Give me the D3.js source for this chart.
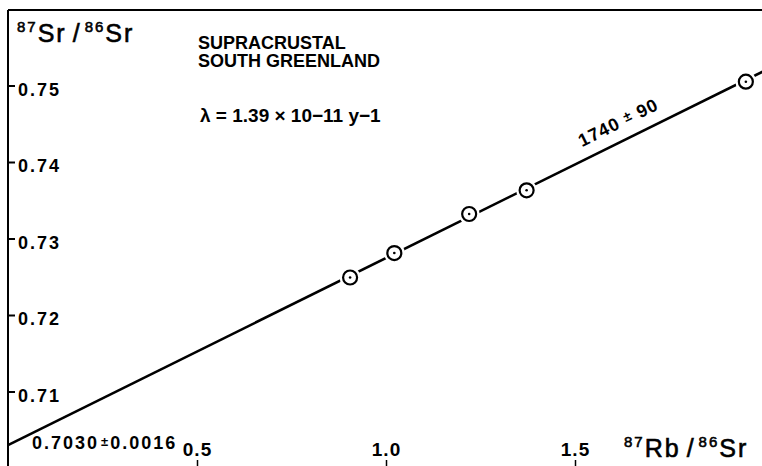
<!DOCTYPE html>
<html>
<head>
<meta charset="utf-8">
<script src="https://cdn.jsdelivr.net/npm/d3@7"></script>
<style>
  body { margin: 0; background: #fff; }
  svg { display: block; font-family: "Liberation Sans", Arial, sans-serif; font-weight: bold; }
</style>
</head>
<body>
<div id="chart"></div>
<script>
var rbSr = [0.905, 1.022, 1.220, 1.372, 1.952];
var srSr = [0.7249, 0.7281, 0.7332, 0.7363, 0.7505];
var lineX = [0, 2.0];
var lineY = [0.7030, 0.7519];
var yTicks = [0.71, 0.72, 0.73, 0.74, 0.75];
var xTicks = [0.5, 1.0, 1.5];

var width = 762, height = 466;

var svg = d3.select("#chart")
			.append("svg")
			.attr("width", width)
			.attr("height", height);

var x = d3.scaleLinear().domain([0, 2]).range([8, 764]);
var y = d3.scaleLinear().domain([0.71, 0.75]).range([391.5, 85.5]);

// frame: left axis and top line
svg.append("line")
	.attr("x1", x(0)).attr("x2", x(0))
	.attr("y1", 10).attr("y2", height)
	.attr("stroke", "#000").attr("stroke-width", 2);
svg.append("line")
	.attr("x1", x(0)).attr("x2", width)
	.attr("y1", 10).attr("y2", 10)
	.attr("stroke", "#000").attr("stroke-width", 2);

// y axis
var yAxis = svg.append("g")
			.attr("transform", "translate(" + x(0) + ",0)")
			.call(d3.axisRight(y).tickValues(yTicks).tickSize(7).tickPadding(3)
				.tickFormat(d3.format(".2f")));
yAxis.select(".domain").remove();
yAxis.selectAll("line").attr("stroke-width", 2);
yAxis.selectAll("text")
	.attr("dy", "0.55em")
	.attr("font-size", 18)
	.attr("letter-spacing", 2)
	.attr("font-family", "Liberation Sans, Arial, sans-serif")
	.attr("font-weight", "bold")
	.attr("fill", "#000");

// x axis (ticks at bottom edge, labels above)
var xAxis = svg.append("g")
			.attr("transform", "translate(0," + height + ")")
			.call(d3.axisBottom(x).tickValues(xTicks).tickSize(-6)
				.tickFormat(d3.format(".1f")));
xAxis.select(".domain").remove();
xAxis.selectAll("line").attr("stroke-width", 1.5);
xAxis.selectAll("text")
	.attr("y", -10)
	.attr("dy", 0)
	.attr("font-size", 19)
	.attr("letter-spacing", 1)
	.attr("font-family", "Liberation Sans, Arial, sans-serif")
	.attr("font-weight", "bold")
	.attr("fill", "#000");

// isochron line
var line = d3.line()
			.x(function(d){ return x(d[0]); })
			.y(function(d){ return y(d[1]); });
svg.append("path")
	.datum(lineX.map(function(d, i){ return [d, lineY[i]]; }))
	.attr("d", line)
	.attr("fill", "none")
	.attr("stroke", "#000")
	.attr("stroke-width", 2.6);

// points
var pts = rbSr.map(function(d, i){ return {x: d, y: srSr[i]}; });
var g = svg.selectAll(".pt")
			.data(pts)
			.enter()
			.append("g")
			.attr("class", "pt")
			.attr("transform", function(d){
				return "translate(" + x(d.x) + "," + y(d.y) + ")";
			});
g.append("circle").attr("r", 10.5).attr("fill", "#fff");
g.append("circle").attr("r", 7).attr("fill", "#fff")
	.attr("stroke", "#000").attr("stroke-width", 2.2);
g.append("circle").attr("r", 1.3).attr("fill", "#000");

// titles
function isoLabel(sel, top, bot, sym2){
	sel.append("tspan").attr("font-size", 15).attr("dy", -10).text(top);
	sel.append("tspan").attr("dy", 10).text(sym2[0]);
	sel.append("tspan").attr("dx", 6).text("/");
	sel.append("tspan").attr("dx", 3).attr("font-size", 15).attr("dy", -10).text(bot);
	sel.append("tspan").attr("dy", 10).text(sym2[1]);
}
svg.append("text")
	.attr("x", 17).attr("y", 42)
	.attr("font-size", 25)
	.attr("font-weight", "normal")
	.attr("stroke", "#000").attr("stroke-width", 0.6)
	.attr("letter-spacing", 2)
	.call(isoLabel, "87", "86", ["Sr", "Sr"]);
svg.append("text")
	.attr("x", 624).attr("y", 457)
	.attr("font-size", 25)
	.attr("font-weight", "normal")
	.attr("stroke", "#000").attr("stroke-width", 0.6)
	.attr("letter-spacing", 2)
	.call(isoLabel, "87", "86", ["Rb", "Sr"]);

svg.append("text")
	.attr("x", 198).attr("y", 49)
	.attr("font-size", 18)
	.text("SUPRACRUSTAL");
svg.append("text")
	.attr("x", 198).attr("y", 67)
	.attr("font-size", 18)
	.text("SOUTH GREENLAND");
svg.append("text")
	.attr("x", 200).attr("y", 122)
	.attr("font-size", 19)
	.text("λ = 1.39 × 10−11 y−1");

var ic = svg.append("text")
	.attr("x", 32).attr("y", 449)
	.attr("font-size", 18)
	.attr("letter-spacing", 2);
ic.append("tspan").text("0.7030");
ic.append("tspan").attr("dx", 2).attr("dy", -3).attr("font-size", 13).text("±");
ic.append("tspan").attr("dy", 3).text("0.0016");

// age label along the line
var age = svg.append("text")
	.attr("transform", "translate(621,128) rotate(-26.3)")
	.attr("text-anchor", "middle")
	.attr("font-size", 18)
	.attr("letter-spacing", 1);
age.append("tspan").text("1740 ");
age.append("tspan").attr("dy", -3).attr("font-size", 14).text("±");
age.append("tspan").attr("dy", 3).text(" 90");
</script>
</body>
</html>
